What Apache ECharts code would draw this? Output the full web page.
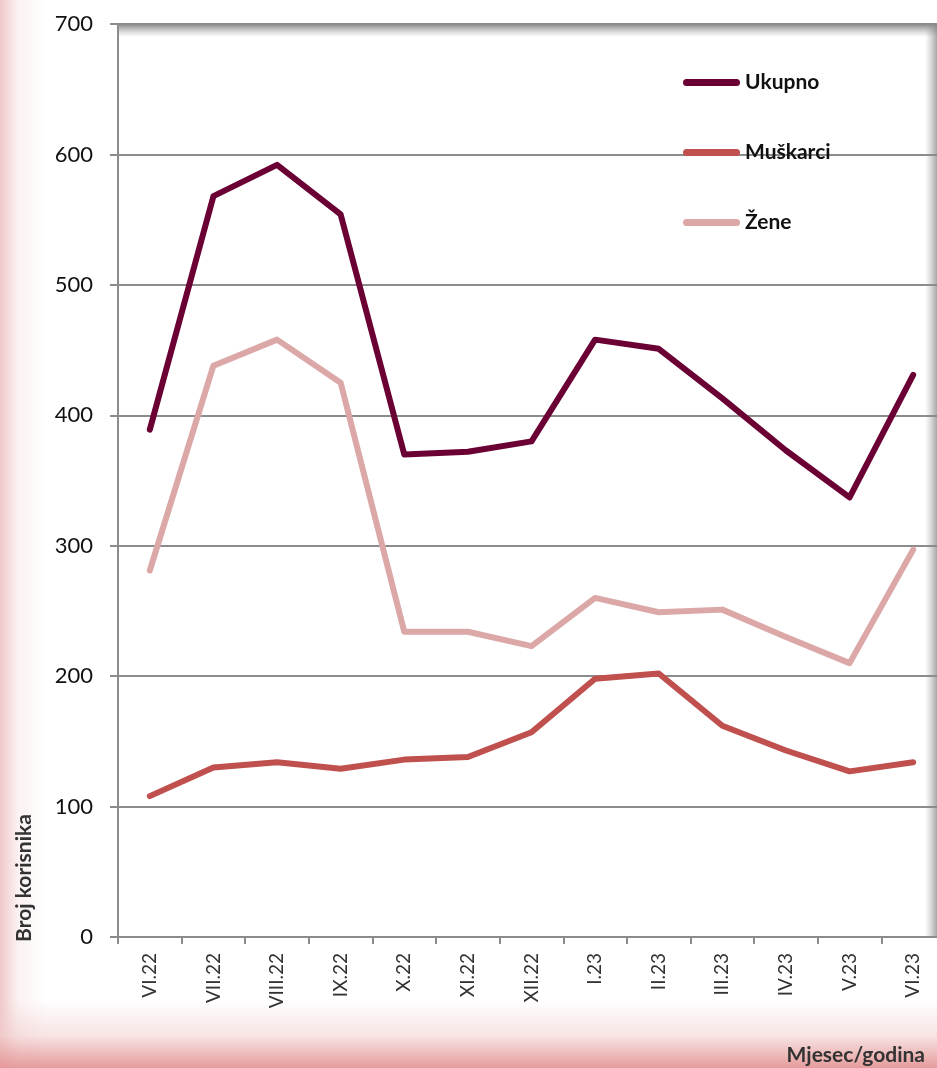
<!DOCTYPE html>
<html>
<head>
<meta charset="utf-8">
<script src="https://cdn.jsdelivr.net/npm/echarts@6/dist/echarts.min.js"></script>
<style>
  html, body {
    margin: 0;
    padding: 0;
    width: 937px;
    height: 1068px;
    overflow: hidden;
    background: #fff;
    position: relative;
  }
  .bg {
    position: absolute;
    left: 0; top: 0;
    width: 937px; height: 1068px;
    background:
      linear-gradient(to top, rgba(228,150,150,0.95) 0px, rgba(240,200,200,0.5) 32px, rgba(255,255,255,0) 68px),
      linear-gradient(to right, rgba(238,195,196,0.9) 0px, rgba(248,228,228,0.5) 18px, rgba(255,255,255,0) 45px),
      #fff;
  }
  /* plot runs a little past the right edge, as in the source picture */
  #chart {
    position: absolute;
    left: 0; top: 0;
    width: 945px;
    height: 1068px;
  }
</style>
</head>
<body>
<div class="bg"></div>
<div id="chart"></div>
<script>
// mjeseci
const months = ['VI.22', 'VII.22', 'VIII.22', 'IX.22', 'X.22', 'XI.22', 'XII.22',
  'I.23', 'II.23', 'III.23', 'IV.23', 'V.23', 'VI.23'];

// broj korisnika
const ukupno   = [389, 568, 592, 554, 370, 372, 380, 458, 451, 413, 373, 337, 431];
const muskarci = [108, 130, 134, 129, 136, 138, 157, 198, 202, 162, 143, 127, 134];
const zene     = [281, 438, 458, 425, 234, 234, 223, 260, 249, 251, 230, 210, 297];

const yTicks = [0, 100, 200, 300, 400, 500, 600, 700];

const FONT = 'Lato, "Open Sans", sans-serif';

const chart = echarts.init(document.getElementById('chart'));

const lineSeries = (name, data, color) => ({
  name: name,
  type: 'line',
  data: data,
  symbol: 'none',
  smooth: false,
  lineStyle: { color: color, width: 6, cap: 'round', join: 'round' },
  itemStyle: { color: color }
});

chart.setOption({
  backgroundColor: 'transparent',
  animation: false,
  textStyle: { fontFamily: FONT },
  grid: {
    left: 118,
    right: 0,
    top: 24,
    bottom: 131,
    containLabel: false
  },
  legend: {
    orient: 'vertical',
    left: 678,
    top: 67,
    itemWidth: 57,
    itemHeight: 7,
    itemGap: 49,
    // zaobljena crta kao ikona legende
    icon: 'path://M3.5,0 H53.5 A3.5,3.5 0 0 1 53.5,7 H3.5 A3.5,3.5 0 0 1 3.5,0 Z',
    data: ['Ukupno', 'Muškarci', 'Žene'],
    textStyle: {
      fontFamily: FONT,
      fontSize: 21,
      fontWeight: 'bold',
      color: '#111'
    },
    selectedMode: false
  },
  xAxis: {
    type: 'category',
    data: months,
    boundaryGap: true,
    axisLine: { lineStyle: { color: '#8c8c8c', width: 2 } },
    axisTick: { show: true, length: 7, lineStyle: { color: '#8c8c8c', width: 2 } },
    axisLabel: {
      rotate: 90,
      interval: 0,
      margin: 16,
      fontSize: 19,
      color: '#333',
      fontFamily: FONT
    }
  },
  yAxis: {
    type: 'value',
    min: yTicks[0],
    max: yTicks[yTicks.length - 1],
    interval: 100,
    axisLine: { show: true, lineStyle: { color: '#8c8c8c', width: 2 } },
    axisTick: { show: true, length: 8, lineStyle: { color: '#8c8c8c', width: 2 } },
    axisLabel: {
      margin: 25,
      fontSize: 22,
      color: '#111',
      fontFamily: FONT
    },
    splitLine: { lineStyle: { color: '#8c8c8c', width: 2 } }
  },
  graphic: [
    // unutarnja sjena gore i desno
    {
      type: 'rect',
      shape: { x: 119, y: 25, width: 826, height: 12 },
      style: {
        fill: new echarts.graphic.LinearGradient(0, 0, 0, 1, [
          { offset: 0, color: 'rgba(110,110,110,0.75)' },
          { offset: 1, color: 'rgba(160,160,160,0)' }
        ])
      },
      silent: true, z: 0
    },
    {
      type: 'rect',
      shape: { x: 925, y: 25, width: 12, height: 912 },
      style: {
        fill: new echarts.graphic.LinearGradient(0, 0, 1, 0, [
          { offset: 0, color: 'rgba(160,160,160,0)' },
          { offset: 1, color: 'rgba(130,130,130,0.7)' }
        ])
      },
      silent: true, z: 0
    },
    {
      type: 'text',
      x: 24,
      y: 942,
      rotation: Math.PI / 2,
      style: {
        text: 'Broj korisnika',
        fontFamily: FONT,
        fontSize: 21,
        fontWeight: 'bold',
        fill: '#333',
        align: 'left',
        verticalAlign: 'middle'
      }
    },
    {
      type: 'text',
      x: 925,
      y: 1055,
      style: {
        text: 'Mjesec/godina',
        fontFamily: FONT,
        fontSize: 21,
        fontWeight: 'bold',
        fill: '#333',
        align: 'right',
        verticalAlign: 'middle'
      }
    }
  ],
  series: [
    lineSeries('Ukupno', ukupno, '#6a0033'),
    lineSeries('Muškarci', muskarci, '#c0504d'),
    lineSeries('Žene', zene, '#dba7a7')
  ]
});
</script>
</body>
</html>
